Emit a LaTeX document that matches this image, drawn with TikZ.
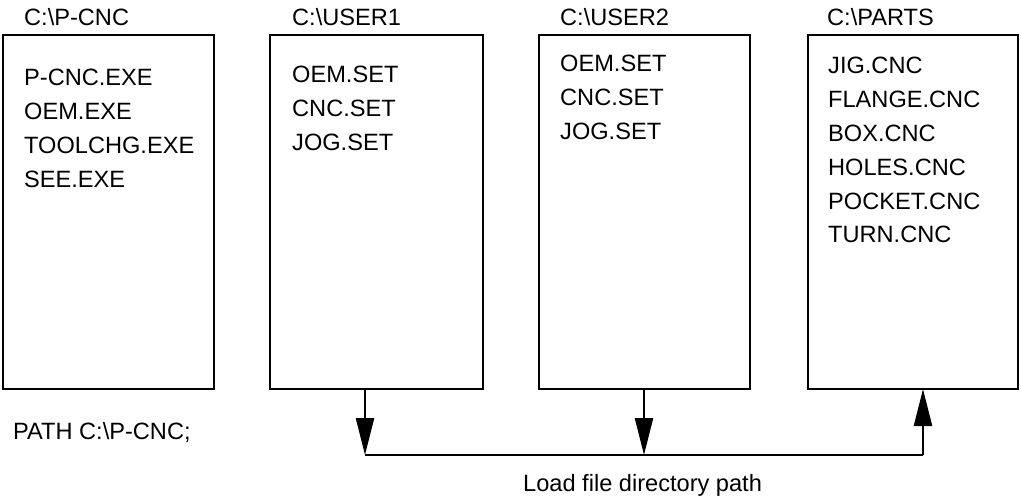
\documentclass[tikz,border=0pt]{standalone}
\usepackage{fontspec}
\setmainfont{Liberation Sans}
\usetikzlibrary{arrows.meta}
\begin{document}
\begin{tikzpicture}[x=1pt,y=-1pt,
  dirbox/.style={draw, line width=2.7pt, rectangle, minimum width=#1,
    minimum height=354pt, anchor=north west, inner sep=0pt, outer sep=0pt},
  dirbox/.default=211pt,
  lbl/.style={anchor=base west, inner sep=0pt, font=\fontsize{23.6}{28}\selectfont},
  link/.style={line width=2.4pt},
  tip/.style={-{Triangle[length=37pt,width=18pt]}}]
  \useasboundingbox (0,0) rectangle (1021,497);

  % directory boxes
  \node[dirbox=211pt] (pcnc)  at (3,35)   {};
  \node[dirbox=213pt] (user1) at (270,35) {};
  \node[dirbox=211pt] (user2) at (539,35) {};
  \node[dirbox=210pt] (parts) at (808,35) {};

  % directory names
  \node[lbl] (tpcnc)  at (24,26)  {C:\textbackslash P-CNC};
  \node[lbl] (tuser1) at (292,26) {C:\textbackslash USER1};
  \node[lbl] (tuser2) at (560,26) {C:\textbackslash USER2};
  \node[lbl] (tparts) at (827,26) {C:\textbackslash PARTS};

  % file lists
  \foreach \f [count=\i] in {P-CNC.EXE, OEM.EXE, TOOLCHG.EXE, SEE.EXE}
    \node[lbl] (fa\i) at (24, 86+34*\i-34) {\f};
  \foreach \f [count=\i] in {OEM.SET, CNC.SET, JOG.SET}
    \node[lbl] (fb\i) at (292, 83+34*\i-34) {\f};
  \foreach \f [count=\i] in {OEM.SET, CNC.SET, JOG.SET}
    \node[lbl] (fc\i) at (560, 72+34*\i-34) {\f};
  \foreach \f [count=\i] in {JIG.CNC, FLANGE.CNC, BOX.CNC, HOLES.CNC, POCKET.CNC, TURN.CNC}
    \node[lbl] (fd\i) at (828, 74+33.8*\i-33.8) {\f};

  % search path
  \node[lbl] (path) at (13,439) {PATH C:\textbackslash P-CNC;};

  % load path connectors
  \coordinate (j1) at (365,455);
  \coordinate (j2) at (644,455);
  \coordinate (j3) at (923,455);
  \draw[link] (j1) -- (j3);
  \draw[link, tip] (user1.south -| j1) -- (j1);
  \draw[link, tip] (user2.south -| j2) -- (j2);
  \draw[link, tip] (j3) -- (parts.south -| j3);

  \node[lbl] (load) at (523,491) {Load file directory path};
\end{tikzpicture}
\end{document}
